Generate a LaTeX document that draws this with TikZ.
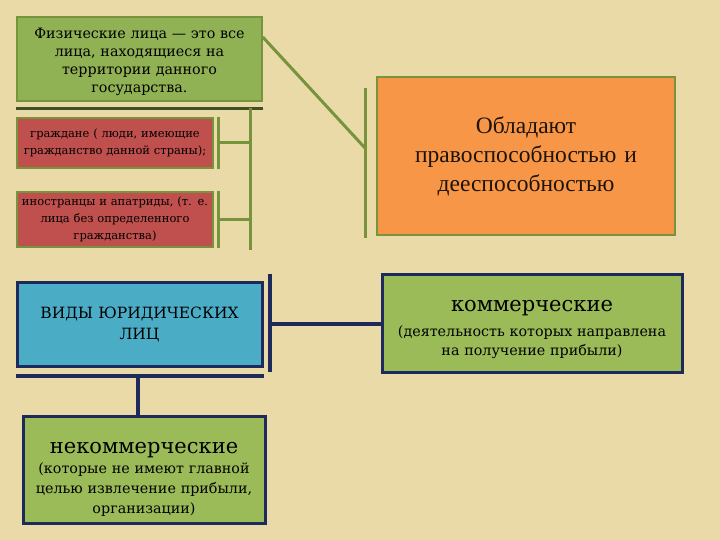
\documentclass[tikz,border=0pt]{standalone}
\usepackage{fontspec}
\setmainfont{DejaVu Serif}
\newfontfamily\timesfont{Liberation Serif}
\usetikzlibrary{positioning}
\definecolor{parch}{RGB}{234,218,168}
\definecolor{leaf}{RGB}{145,178,84}
\definecolor{leafdark}{RGB}{119,147,60}
\definecolor{brick}{RGB}{192,80,77}
\definecolor{tang}{RGB}{247,150,70}
\definecolor{sky}{RGB}{75,172,198}
\definecolor{olive}{RGB}{155,187,89}
\definecolor{navy}{RGB}{31,42,92}

\begin{document}
\begin{tikzpicture}[x=1pt,y=-1pt]
\tikzset{box/.style = {shape=rectangle, align=center, inner sep=2pt, text=black}}
\tikzset{greenbox/.style = {box, fill=leaf, draw=leafdark, line width=1.5pt}}
\tikzset{redbox/.style = {box, fill=brick, draw=leafdark, line width=1.5pt}}
\tikzset{orangebox/.style = {box, fill=tang, draw=leafdark, line width=2pt, text=black!85!brown}}
\tikzset{bluebox/.style = {box, fill=sky, draw=navy, line width=3pt}}
\tikzset{oliveboxnavy/.style = {box, fill=olive, draw=navy, line width=3pt}}
\tikzset{greenline/.style = {draw=leafdark, line width=3pt}}
\tikzset{navyline/.style = {draw=navy, line width=4pt}}
\fill[parch] (0,0) rectangle (720,540);
\useasboundingbox (0,0) rectangle (720,540);

\node[greenbox, minimum width=245pt, minimum height=84pt, text width=240pt,
  font=\fontsize{14.3}{18}\selectfont] (fiz) at (139.5,59)
  {\rule{0pt}{16.5pt}Физические лица — это все\\ лица, находящиеся на\\ территории данного\\ государства.};
\node[redbox, minimum width=196pt, minimum height=50pt, text width=192pt,
  font=\fontsize{11.5}{17}\selectfont] (grazh) at (115,143)
  {граждане ( люди, имеющие\\ гражданство данной страны);};
\node[redbox, minimum width=196pt, minimum height=55pt, text width=192pt,
  font=\fontsize{11.5}{17}\selectfont] (inostr) at (115,219.5)
  {иностранцы и апатриды, (т. е.\\ лица без определенного\\ гражданства)};
\node[orangebox, minimum width=298pt, minimum height=158pt, text width=290pt,
  font=\timesfont\fontsize{23.5}{29}\selectfont] (obl) at (526,156)
  {Обладают\\ правоспособностью и\\ дееспособностью};
\node[bluebox, minimum width=245pt, minimum height=84pt, text width=235pt,
  font=\fontsize{15.5}{21}\selectfont] (vidy) at (139.5,324)
  {ВИДЫ ЮРИДИЧЕСКИХ\\ ЛИЦ};
\node[oliveboxnavy, minimum width=300pt, minimum height=98pt, text width=294pt,
  font=\fontsize{14.3}{19}\selectfont] (kom) at (532,323)
  {{\fontsize{21}{26}\selectfont\rule{0pt}{25pt}коммерческие}\\[6pt] (деятельность которых направлена\\ на получение прибыли)};
\node[oliveboxnavy, minimum width=242pt, minimum height=107pt, text width=238pt,
  font=\fontsize{14.3}{20}\selectfont] (nekom) at (144,469.5)
  {{\fontsize{21}{24}\selectfont\rule{0pt}{30pt}некоммерческие}\\ (которые не имеют главной\\ целью извлечение прибыли,\\ организации)};

\coordinate (fizbus) at (250,108);
\coordinate (fizend) at (250,250);
\coordinate (vidybus) at (138,374);
\draw[draw=black!45!leafdark, line width=2.5pt] ([yshift=-7pt]fiz.south west) -- ([yshift=-7pt]fiz.south east);
\draw[greenline] (fizbus) -- (fizend);
\draw[greenline] ([xshift=5pt]grazh.north east) -- ([xshift=5pt]grazh.south east);
\draw[greenline] ([xshift=5pt]inostr.north east) -- ([xshift=5pt]inostr.south east);
\draw[greenline] ([xshift=5pt]grazh.east) -- (grazh.east -| fizbus);
\draw[greenline] ([xshift=5pt]inostr.east) -- (inostr.east -| fizbus);
\draw[greenline] ([xshift=-11pt,yshift=-12pt]obl.north west) -- ([xshift=-11pt,yshift=-2pt]obl.south west);
\draw[greenline] ([yshift=22pt]fiz.east) -- ([xshift=-11pt,yshift=8pt]obl.west);

\draw[navyline] ([xshift=6pt,yshift=7pt]vidy.north east) -- ([xshift=6pt,yshift=-4pt]vidy.south east);
\draw[navyline] ([xshift=6pt]vidy.east) -- (vidy.east -| kom.west);
\draw[navyline] ([yshift=-8pt]vidy.south west) -- ([yshift=-8pt]vidy.south east);
\draw[navyline] (vidybus) -- (vidybus |- nekom.north);
\end{tikzpicture}
\end{document}
